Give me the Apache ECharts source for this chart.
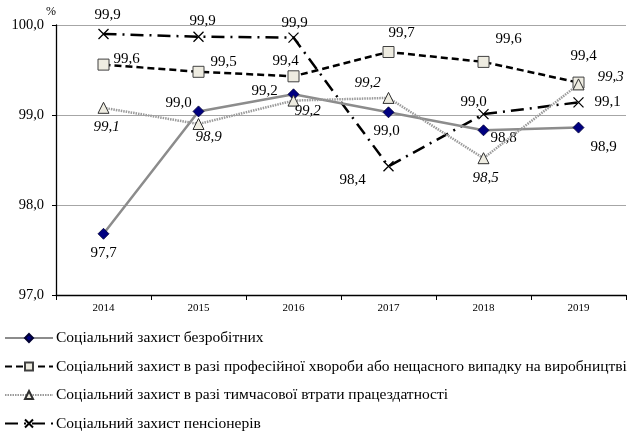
<!DOCTYPE html>
<html>
<head>
<meta charset="utf-8">
<script src="https://cdn.jsdelivr.net/npm/echarts@6/dist/echarts.min.js"></script>
<style>
html,body{margin:0;padding:0;background:#fff;}
#chart{width:627px;height:434px;}
</style>
</head>
<body>
<div id="chart"></div>
<script>
// ---- data ----
const years = ['2014', '2015', '2016', '2017', '2018', '2019'];
const seriesNames = [
  'Соціальний захист безробітних',
  'Соціальний захист в разі професійної хвороби або нещасного випадку на виробництві',
  'Соціальний захист в разі тимчасової втрати працездатності',
  'Соціальний захист пенсіонерів'
];
const unemployed = [97.68, 99.04, 99.23, 99.03, 98.83, 98.86];
const occupational = [99.56, 99.48, 99.43, 99.70, 99.59, 99.36];
const temporary = [99.08, 98.90, 99.16, 99.19, 98.52, 99.34];
const pensioners = [99.90, 99.87, 99.86, 98.43, 99.01, 99.14];
const yTicks = [97, 98, 99, 100];

// ---- label placement (styles, not data) ----
const offUnemp = [[0, 19], [-20, -8], [-29, -3], [-2, 19], [20, 8], [25, 19]];
const offOcc = [[23, -6], [25, -10], [-8, -15], [13, -19], [25, -23], [5, -27]];
const offTemp = [[3, 19], [10, 13], [14, 10], [-21, -15], [2, 20], [32, -7]];
const offPens = [[4, -19], [4, -16], [1, -15], [-36, 14], [-10, -12], [29, 0]];

const FONT = '"Liberation Serif", "Times New Roman", serif';
const fmt = v => v.toFixed(1).replace('.', ',');

function build(values, offsets, italic) {
  return values.map((v, i) => ({
    value: v,
    label: {
      show: true,
      position: 'inside',
      offset: offsets[i],
      align: 'center',
      verticalAlign: 'middle',
      formatter: p => fmt(p.value),
      fontFamily: FONT,
      fontSize: 15,
      fontStyle: italic ? 'italic' : 'normal',
      color: '#000'
    }
  }));
}

const chart = echarts.init(document.getElementById('chart'), null, {renderer: 'canvas'});
chart.setOption({
  animation: false,
  backgroundColor: '#fff',
  grid: {left: 56, right: 1, top: 25, bottom: 139, containLabel: false},
  legend: {
    orient: 'vertical',
    left: 4,
    top: 330,
    height: 104,
    padding: 0,
    itemWidth: 48,
    itemHeight: 10,
    itemGap: 12.5,
    symbolKeepAspect: true,
    textStyle: {fontFamily: FONT, fontSize: 15.5, color: '#000', padding: [0, 0, 0, -2]},
    data: seriesNames
  },
  xAxis: {
    type: 'category',
    data: years,
    boundaryGap: true,
    axisLine: {lineStyle: {color: '#000', width: 1.3}},
    axisTick: {show: true, length: 5, lineStyle: {color: '#000'}},
    axisLabel: {fontFamily: FONT, fontSize: 11, color: '#000', margin: 8}
  },
  yAxis: {
    type: 'value',
    min: yTicks[0],
    max: yTicks[yTicks.length - 1],
    interval: 1,
    name: '%',
    nameLocation: 'end',
    nameGap: 6,
    nameTextStyle: {fontFamily: FONT, fontSize: 12, color: '#000', align: 'right', verticalAlign: 'bottom'},
    axisLine: {show: true, lineStyle: {color: '#000', width: 1.3}},
    axisTick: {show: true, length: 4, lineStyle: {color: '#000'}},
    splitLine: {show: true, lineStyle: {color: '#a6a6a6', width: 1}},
    axisLabel: {fontFamily: FONT, fontSize: 14.5, color: '#000', margin: 12, formatter: v => fmt(v)}
  },
  series: [
    {
      name: seriesNames[0],
      type: 'line',
      data: build(unemployed, offUnemp, false),
      symbol: 'diamond',
      symbolSize: 11,
      lineStyle: {color: '#8c8c8c', width: 2.5},
      itemStyle: {color: '#000080', borderColor: '#000033', borderWidth: 0.8},
      z: 4
    },
    {
      name: seriesNames[1],
      type: 'line',
      data: build(occupational, offOcc, false),
      symbol: 'rect',
      symbolSize: 11,
      lineStyle: {color: '#000', width: 2.5, type: [7, 4]},
      itemStyle: {color: '#eeece1', borderColor: '#404040', borderWidth: 1},
      z: 3
    },
    {
      name: seriesNames[2],
      type: 'line',
      data: build(temporary, offTemp, true),
      symbol: 'triangle',
      symbolSize: 11,
      lineStyle: {color: '#9a9a9a', width: 2.5, type: [1.5, 1]},
      itemStyle: {color: '#eeece1', borderColor: '#303030', borderWidth: 1},
      z: 5
    },
    {
      name: seriesNames[3],
      type: 'line',
      data: build(pensioners, offPens, false),
      symbol: 'path://M0,0L10,10M10,0L0,10',
      symbolSize: 10,
      lineStyle: {color: '#000', width: 2.5, type: [13, 6, 2, 6]},
      itemStyle: {color: 'rgba(0,0,0,0)', borderColor: '#000', borderWidth: 1.3},
      z: 2
    }
  ]
});
</script>
</body>
</html>
